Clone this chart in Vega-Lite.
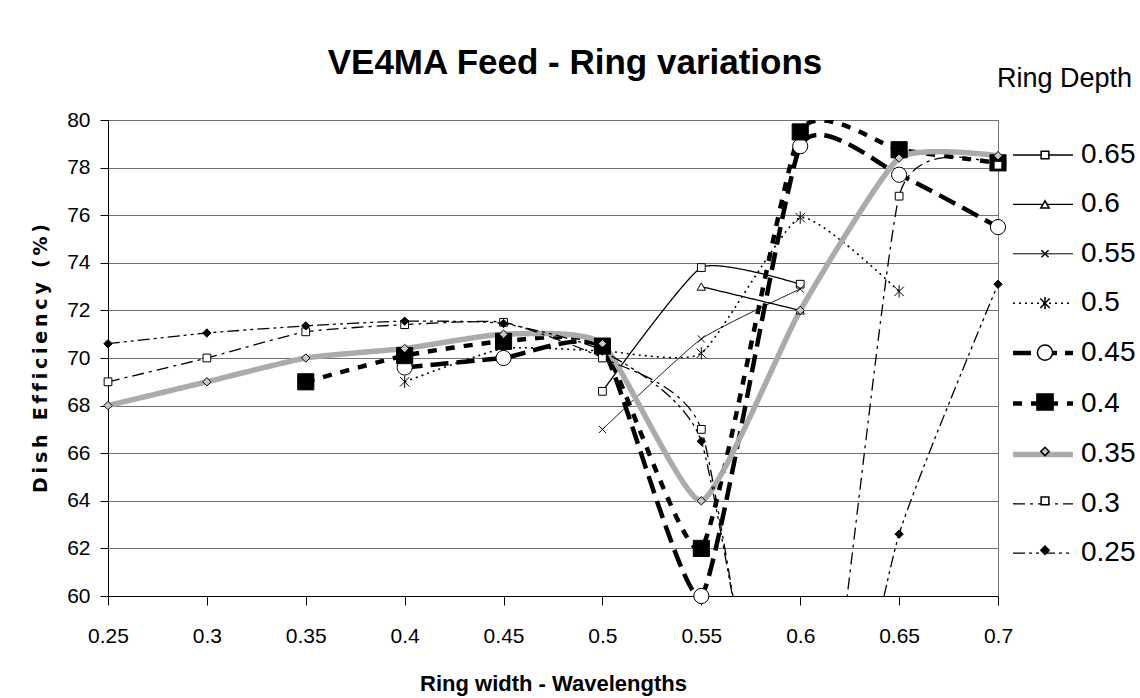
{
  "$schema": "https://vega.github.io/schema/vega-lite/v6.json",
  "width": 890,
  "height": 476,
  "autosize": "none",
  "padding": {"left": 108, "top": 120, "right": 142, "bottom": 102},
  "background": "white",
  "title": {"text": "VE4MA Feed - Ring variations", "font": "Liberation Sans", "fontSize": 35, "fontWeight": "bold", "color": "black", "anchor": "middle", "dx": 22, "dy": 45, "offset": 30},
  "config": {
    "view": {"stroke": "#707070", "strokeWidth": 1},
    "axis": {"domainColor": "black", "tickColor": "black", "labelColor": "black", "titleColor": "black", "labelFont": "Liberation Sans", "titleFont": "Liberation Sans", "labelFontSize": 21, "titleFontWeight": "bold"}
  },
  "data": {"values": [
    {"series": "0.65", "depth": 0.65, "w": 0.5, "eff": 68.6},
    {"series": "0.65", "depth": 0.65, "w": 0.55, "eff": 73.8},
    {"series": "0.65", "depth": 0.65, "w": 0.6, "eff": 73.1},
    {"series": "0.6", "depth": 0.6, "w": 0.55, "eff": 73.0},
    {"series": "0.6", "depth": 0.6, "w": 0.6, "eff": 72.0},
    {"series": "0.55", "depth": 0.55, "w": 0.5, "eff": 67.0},
    {"series": "0.55", "depth": 0.55, "w": 0.55, "eff": 70.8},
    {"series": "0.55", "depth": 0.55, "w": 0.6, "eff": 72.9},
    {"series": "0.5", "depth": 0.5, "w": 0.4, "eff": 69.0},
    {"series": "0.5", "depth": 0.5, "w": 0.45, "eff": 70.4},
    {"series": "0.5", "depth": 0.5, "w": 0.5, "eff": 70.3},
    {"series": "0.5", "depth": 0.5, "w": 0.55, "eff": 70.2},
    {"series": "0.5", "depth": 0.5, "w": 0.6, "eff": 75.9},
    {"series": "0.5", "depth": 0.5, "w": 0.65, "eff": 72.8},
    {"series": "0.45", "depth": 0.45, "w": 0.4, "eff": 69.6},
    {"series": "0.45", "depth": 0.45, "w": 0.45, "eff": 70.0},
    {"series": "0.45", "depth": 0.45, "w": 0.5, "eff": 70.4},
    {"series": "0.45", "depth": 0.45, "w": 0.55, "eff": 60.0},
    {"series": "0.45", "depth": 0.45, "w": 0.6, "eff": 78.9},
    {"series": "0.45", "depth": 0.45, "w": 0.65, "eff": 77.7},
    {"series": "0.45", "depth": 0.45, "w": 0.7, "eff": 75.5},
    {"series": "0.4", "depth": 0.4, "w": 0.35, "eff": 69.0},
    {"series": "0.4", "depth": 0.4, "w": 0.4, "eff": 70.1},
    {"series": "0.4", "depth": 0.4, "w": 0.45, "eff": 70.7},
    {"series": "0.4", "depth": 0.4, "w": 0.5, "eff": 70.5},
    {"series": "0.4", "depth": 0.4, "w": 0.55, "eff": 62.0},
    {"series": "0.4", "depth": 0.4, "w": 0.6, "eff": 79.5},
    {"series": "0.4", "depth": 0.4, "w": 0.65, "eff": 78.75},
    {"series": "0.4", "depth": 0.4, "w": 0.7, "eff": 78.2},
    {"series": "0.35", "depth": 0.35, "w": 0.25, "eff": 68.0},
    {"series": "0.35", "depth": 0.35, "w": 0.3, "eff": 69.0},
    {"series": "0.35", "depth": 0.35, "w": 0.35, "eff": 70.0},
    {"series": "0.35", "depth": 0.35, "w": 0.4, "eff": 70.4},
    {"series": "0.35", "depth": 0.35, "w": 0.45, "eff": 71.0},
    {"series": "0.35", "depth": 0.35, "w": 0.5, "eff": 70.6},
    {"series": "0.35", "depth": 0.35, "w": 0.55, "eff": 64.0},
    {"series": "0.35", "depth": 0.35, "w": 0.6, "eff": 72.0},
    {"series": "0.35", "depth": 0.35, "w": 0.65, "eff": 78.4},
    {"series": "0.35", "depth": 0.35, "w": 0.7, "eff": 78.5},
    {"series": "0.3", "depth": 0.3, "w": 0.25, "eff": 69.0},
    {"series": "0.3", "depth": 0.3, "w": 0.3, "eff": 70.0},
    {"series": "0.3", "depth": 0.3, "w": 0.35, "eff": 71.1},
    {"series": "0.3", "depth": 0.3, "w": 0.4, "eff": 71.4},
    {"series": "0.3", "depth": 0.3, "w": 0.45, "eff": 71.5},
    {"series": "0.3", "depth": 0.3, "w": 0.5, "eff": 70.0},
    {"series": "0.3", "depth": 0.3, "w": 0.55, "eff": 67.0},
    {"series": "0.3", "depth": 0.3, "w": 0.6, "eff": 46.3},
    {"series": "0.3", "depth": 0.3, "w": 0.65, "eff": 76.8},
    {"series": "0.3", "depth": 0.3, "w": 0.7, "eff": 78.1},
    {"series": "0.25", "depth": 0.25, "w": 0.25, "eff": 70.6},
    {"series": "0.25", "depth": 0.25, "w": 0.3, "eff": 71.05},
    {"series": "0.25", "depth": 0.25, "w": 0.35, "eff": 71.35},
    {"series": "0.25", "depth": 0.25, "w": 0.4, "eff": 71.55},
    {"series": "0.25", "depth": 0.25, "w": 0.45, "eff": 71.45},
    {"series": "0.25", "depth": 0.25, "w": 0.5, "eff": 70.3},
    {"series": "0.25", "depth": 0.25, "w": 0.55, "eff": 66.5},
    {"series": "0.25", "depth": 0.25, "w": 0.6, "eff": 46.2},
    {"series": "0.25", "depth": 0.25, "w": 0.65, "eff": 62.6},
    {"series": "0.25", "depth": 0.25, "w": 0.7, "eff": 73.1}
  ]},
  "layer": [
    {
      "mark": {"type": "line", "interpolate": "cardinal", "tension": 0.5, "clip": true},
      "encoding": {
        "x": {"field": "w", "type": "quantitative", "scale": {"domain": [0.25, 0.7], "nice": false, "zero": false},
          "axis": {"values": [0.25, 0.3, 0.35, 0.4, 0.45, 0.5, 0.55, 0.6, 0.65, 0.7], "format": ".2~f", "grid": false, "tickSize": 9, "labelPadding": 20, "title": "Ring width - Wavelengths", "titleFontSize": 22, "titlePadding": 27, "labelFlush": false}},
        "y": {"field": "eff", "type": "quantitative", "scale": {"domain": [60, 80], "nice": false, "zero": false},
          "axis": {"values": [60, 62, 64, 66, 68, 70, 72, 74, 76, 78, 80], "format": "d", "grid": true, "gridColor": "#707070", "gridWidth": 1, "tickSize": 8, "labelPadding": 10, "title": "D\u2009i\u2009s\u2009h\u2009 \u2009E\u2009f\u2009f\u2009i\u2009c\u2009i\u2009e\u2009n\u2009c\u2009y\u2009 \u2009(\u2009%\u2009)", "titleFont": "DejaVu Sans", "titleFontSize": 19, "titlePadding": 16, "labelFlush": false}},
        "color": {"field": "series", "type": "nominal",
          "scale": {"domain": ["0.65", "0.6", "0.55", "0.5", "0.45", "0.4", "0.35", "0.3", "0.25"], "range": ["black", "black", "black", "black", "black", "black", "#ABABAB", "black", "black"]},
          "legend": {"title": "Ring Depth", "orient": "none", "legendX": 889, "legendY": -54, "direction": "vertical", "labelFont": "Liberation Sans", "labelFontSize": 28, "labelColor": "black", "titleFont": "Liberation Sans", "titleFontSize": 27, "titleFontWeight": "normal", "titleColor": "black", "titlePadding": 48, "rowPadding": 21.4, "symbolType": "M-2.5,0H2.5", "symbolSize": 576, "symbolOffset": 31, "labelOffset": 23}},
        "strokeDash": {"field": "series", "type": "nominal",
          "scale": {"domain": ["0.65", "0.6", "0.55", "0.5", "0.45", "0.4", "0.35", "0.3", "0.25"], "range": [[1, 0], [1, 0], [1, 0], [2, 4], [18, 8], [9, 9], [1, 0], [12, 5, 3, 5], [12, 4, 3, 4, 3, 4]]},
          "legend": {"title": "Ring Depth", "orient": "none", "legendX": 889, "legendY": -54, "direction": "vertical", "labelFont": "Liberation Sans", "labelFontSize": 28, "labelColor": "black", "titleFont": "Liberation Sans", "titleFontSize": 27, "titleFontWeight": "normal", "titleColor": "black", "titlePadding": 48, "rowPadding": 21.4, "symbolType": "M-2.5,0H2.5", "symbolSize": 576, "symbolOffset": 31, "labelOffset": 23}},
        "strokeWidth": {"field": "series", "type": "nominal",
          "scale": {"type": "ordinal", "domain": ["0.65", "0.6", "0.55", "0.5", "0.45", "0.4", "0.35", "0.3", "0.25"], "range": [1.3, 1.3, 1, 1.6, 4.5, 4.5, 5.5, 1.3, 1.3]},
          "legend": {"title": "Ring Depth", "orient": "none", "legendX": 889, "legendY": -54, "direction": "vertical", "labelFont": "Liberation Sans", "labelFontSize": 28, "labelColor": "black", "titleFont": "Liberation Sans", "titleFontSize": 27, "titleFontWeight": "normal", "titleColor": "black", "titlePadding": 48, "rowPadding": 21.4, "symbolType": "M-2.5,0H2.5", "symbolSize": 576, "symbolOffset": 31, "labelOffset": 23}}
      }
    },
    {
      "transform": [{"filter": "datum.eff >= 59.9"}],
      "mark": {"type": "point", "filled": true, "stroke": "black", "strokeWidth": 1, "opacity": 1},
      "encoding": {
        "x": {"field": "w", "type": "quantitative"},
        "y": {"field": "eff", "type": "quantitative"},
        "shape": {"field": "depth", "type": "nominal",
          "scale": {"domain": [0.65, 0.6, 0.55, 0.5, 0.45, 0.4, 0.35, 0.3, 0.25], "range": ["square", "triangle-up", "M-1,-1L1,1M-1,1L1,-1", "M-1,-1L1,1M-1,1L1,-1M0,-1.3V1.3", "circle", "square", "diamond", "square", "diamond"]},
          "legend": {"title": " ", "orient": "none", "legendX": 923, "legendY": -54, "direction": "vertical", "labelFont": "Liberation Sans", "labelFontSize": 28, "labelExpr": "' '", "titleFont": "Liberation Sans", "titleFontSize": 27, "titleFontWeight": "normal", "titlePadding": 48, "rowPadding": 21.4, "encode": {"symbols": {"update": {"stroke": {"value": "black"}, "strokeWidth": {"value": 1}, "opacity": {"value": 1}}}}}},
        "fill": {"field": "depth", "type": "nominal",
          "scale": {"domain": [0.65, 0.6, 0.55, 0.5, 0.45, 0.4, 0.35, 0.3, 0.25], "range": ["white", "white", "white", "white", "white", "black", "#C8C8C8", "white", "black"]},
          "legend": {"title": " ", "orient": "none", "legendX": 923, "legendY": -54, "direction": "vertical", "labelFont": "Liberation Sans", "labelFontSize": 28, "labelExpr": "' '", "titleFont": "Liberation Sans", "titleFontSize": 27, "titleFontWeight": "normal", "titlePadding": 48, "rowPadding": 21.4, "encode": {"symbols": {"update": {"stroke": {"value": "black"}, "strokeWidth": {"value": 1}, "opacity": {"value": 1}}}}}},
        "size": {"field": "depth", "type": "nominal",
          "scale": {"type": "ordinal", "domain": [0.65, 0.6, 0.55, 0.5, 0.45, 0.4, 0.35, 0.3, 0.25], "range": [60, 70, 50, 90, 230, 260, 70, 60, 70]},
          "legend": {"title": " ", "orient": "none", "legendX": 923, "legendY": -54, "direction": "vertical", "labelFont": "Liberation Sans", "labelFontSize": 28, "labelExpr": "' '", "titleFont": "Liberation Sans", "titleFontSize": 27, "titleFontWeight": "normal", "titlePadding": 48, "rowPadding": 21.4, "encode": {"symbols": {"update": {"stroke": {"value": "black"}, "strokeWidth": {"value": 1}, "opacity": {"value": 1}}}}}}
      }
    }
  ]
}
